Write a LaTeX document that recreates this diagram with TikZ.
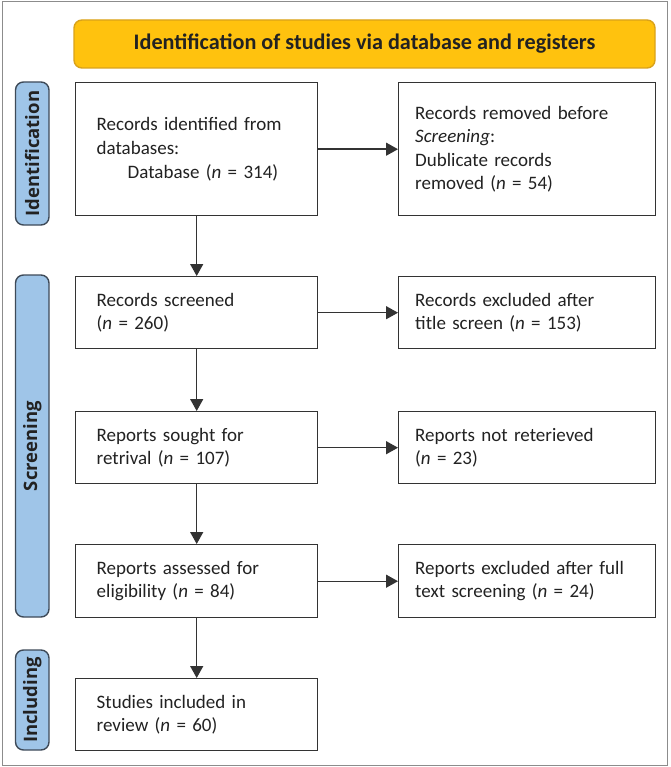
\documentclass[tikz,border=0pt]{standalone}
\usepackage{fontspec}
\setmainfont{Carlito}
\newfontfamily\sidefont{Open Sans}
\usetikzlibrary{arrows.meta}
\definecolor{banner}{HTML}{FFC20E}
\definecolor{bannerline}{HTML}{D9A21A}
\definecolor{sidefill}{HTML}{9FC5E8}
\definecolor{sideline}{HTML}{3E4A58}
\definecolor{boxline}{HTML}{333333}
\definecolor{frameline}{HTML}{8C8C8C}
\definecolor{txt}{HTML}{222222}
\tikzset{
  x=1pt, y=-1pt,
  leftbox/.style={draw=boxline, line width=1.4pt, fill=white, anchor=north west,
    minimum width=242pt, text width=200pt, inner xsep=21pt, inner ysep=0pt,
    align=left, text=txt, font=\fontsize{19}{23.6}\selectfont},
  rightbox/.style={draw=boxline, line width=1.4pt, fill=white, anchor=north west,
    minimum width=257pt, text width=224pt, inner xsep=16.5pt, inner ysep=0pt,
    align=left, text=txt, font=\fontsize{19}{23.6}\selectfont},
  sidelabel/.style={draw=sideline, line width=1.4pt, fill=sidefill, rounded corners=8pt},
  sidetext/.style={rotate=90, text=txt, font=\sidefont\bfseries\fontsize{18.5}{20}\selectfont},
  arr/.style={draw=boxline, line width=1.4pt, -{Triangle[length=12pt,width=13pt]}},
}
\begin{document}
\begin{tikzpicture}
\useasboundingbox (0,0) rectangle (670,767);
\draw[frameline, line width=1.5pt] (2.5,1.5) rectangle (667.5,765.5);
% banner
\draw[draw=bannerline, line width=1.4pt, fill=banner, rounded corners=8pt] (74,20) rectangle (655,68);
\node[font=\bfseries\fontsize{22.2}{24}\selectfont, text=txt] (title) at (364.5,44) {Identification of studies via database and registers};
% side labels
\draw[sidelabel] (15.5,82) rectangle (49,225);
\node[sidetext] (lid) at (32.2,153.5) {Identification};
\draw[sidelabel] (15.5,275) rectangle (49,617);
\node[sidetext] (lsc) at (32.2,446) {Screening};
\draw[sidelabel] (15.5,650) rectangle (49,750);
\node[sidetext] (lin) at (32.2,700) {Including};
% boxes
\node[leftbox, minimum height=133pt] (b1) at (75,82) {Records identified from\\databases:\\\hspace*{31pt}Database (\textit{n} = 314)};
\node[rightbox, minimum height=133pt] (b2) at (398,82) {Records removed before\\\textit{Screening}:\\Dublicate records\\removed (\textit{n} = 54)};
\node[leftbox, minimum height=72pt] (b3) at (75,276) {Records screened\\(\textit{n} = 260)};
\node[rightbox, minimum height=72pt] (b4) at (398,276) {Records excluded after\\title screen (\textit{n} = 153)};
\node[leftbox, minimum height=72pt] (b5) at (75,411) {Reports sought for\\retrival (\textit{n} = 107)};
\node[rightbox, minimum height=72pt] (b6) at (398,411) {Reports not reterieved\\(\textit{n} = 23)};
\node[leftbox, minimum height=73pt] (b7) at (75,544) {Reports assessed for\\eligibility (\textit{n} = 84)};
\node[rightbox, minimum height=73pt] (b8) at (398,544) {Reports excluded after full\\text screening (\textit{n} = 24)};
\node[leftbox, minimum height=72pt] (b9) at (75,678) {Studies included in\\review (\textit{n} = 60)};
% connectors
\draw[arr] (b1) -- (b2);
\draw[arr] (b3) -- (b4);
\draw[arr] (b5) -- (b6);
\draw[arr] (b7) -- (b8);
\draw[arr] (b1.south) -- (b3.north);
\draw[arr] (b3.south) -- (b5.north);
\draw[arr] (b5.south) -- (b7.north);
\draw[arr] (b7.south) -- (b9.north);
\end{tikzpicture}
\end{document}
